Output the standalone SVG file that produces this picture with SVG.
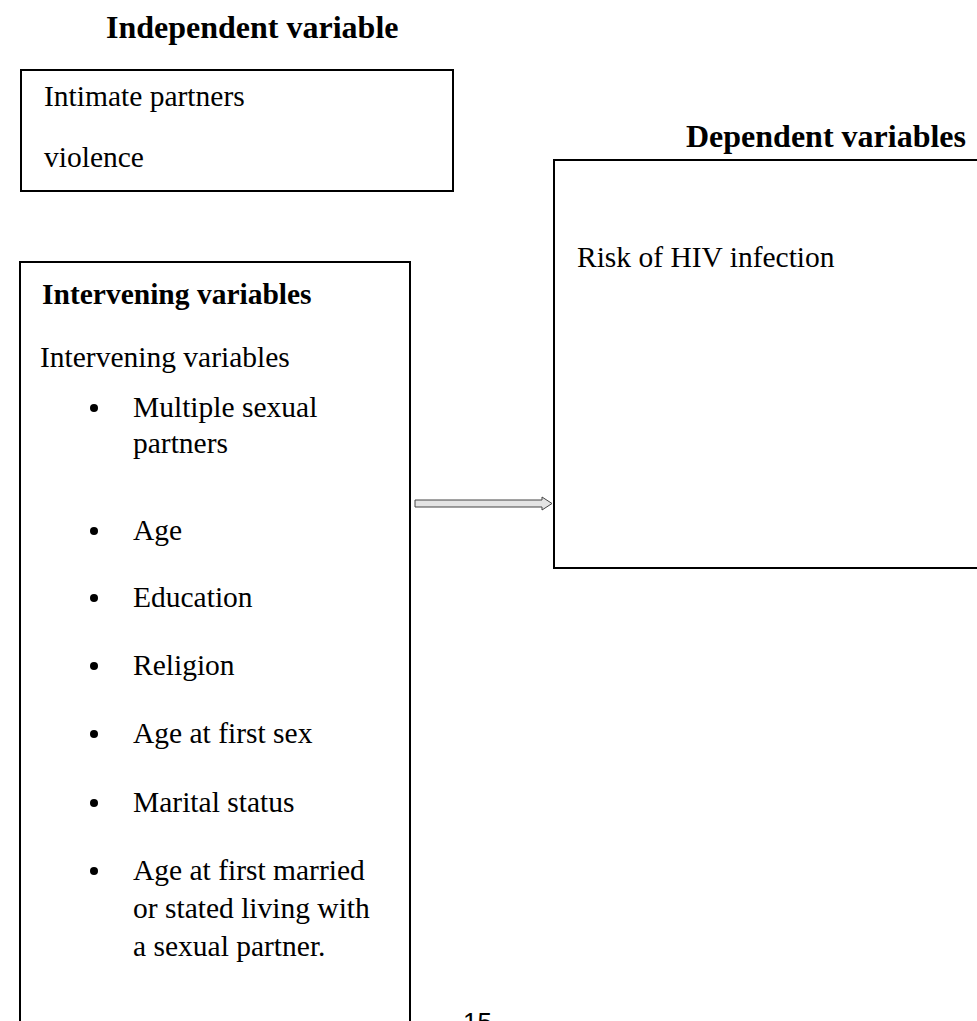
<svg xmlns="http://www.w3.org/2000/svg" width="977" height="1021" viewBox="0 0 977 1021">
<style>
.box{fill:none;stroke:#000;stroke-width:2}
.t{font-family:"Liberation Serif","Times New Roman",serif;font-size:29.5px;fill:#000}
.h{font-family:"Liberation Serif","Times New Roman",serif;font-size:32px;font-weight:bold;fill:#000}
.h2{font-family:"Liberation Serif","Times New Roman",serif;font-size:29.5px;font-weight:bold;fill:#000}
.pg{font-family:"Liberation Sans",Arial,sans-serif;font-size:26px;fill:#000}
</style>
<rect width="977" height="1021" fill="#fff"/>
<g id="title-independent"><text class="h" x="106" y="38">Independent variable</text></g>
<g id="title-dependent"><text class="h" x="686" y="147">Dependent variables</text></g>
<g id="node-independent">
<rect class="box" x="21" y="70" width="432" height="121"/>
<text class="t" x="44" y="106">Intimate partners</text>
<text class="t" x="44" y="167">violence</text>
</g>
<g id="node-dependent">
<rect class="box" x="554" y="160" width="440" height="408"/>
<text class="t" x="577" y="267">Risk of HIV infection</text>
</g>
<g id="node-intervening">
<path class="box" d="M20,1030 V262 H410 V1030"/>
<text class="h2" x="42" y="304">Intervening variables</text>
<text class="t" x="40" y="367">Intervening variables</text>
<g fill="#000">
<circle cx="94" cy="408" r="4"/>
<circle cx="94" cy="531" r="4"/>
<circle cx="94" cy="598" r="4"/>
<circle cx="94" cy="666" r="4"/>
<circle cx="94" cy="734" r="4"/>
<circle cx="94" cy="803" r="4"/>
<circle cx="94" cy="871" r="4"/>
</g>
<text class="t" x="133" y="417">Multiple sexual</text>
<text class="t" x="133" y="453">partners</text>
<text class="t" x="133" y="540">Age</text>
<text class="t" x="133" y="607">Education</text>
<text class="t" x="133" y="675">Religion</text>
<text class="t" x="133" y="743">Age at first sex</text>
<text class="t" x="133" y="812">Marital status</text>
<text class="t" x="133" y="880">Age at first married</text>
<text class="t" x="133" y="918">or stated living with</text>
<text class="t" x="133" y="956">a sexual partner.</text>
</g>
<g id="connectors">
<polygon points="415,500 542,500 542,497 552,503.5 542,510 542,507 415,507" fill="#e4e4e4" stroke="#444" stroke-width="1"/>
</g>
<g id="page-number"><text class="pg" x="463" y="1031">15</text></g>
</svg>
